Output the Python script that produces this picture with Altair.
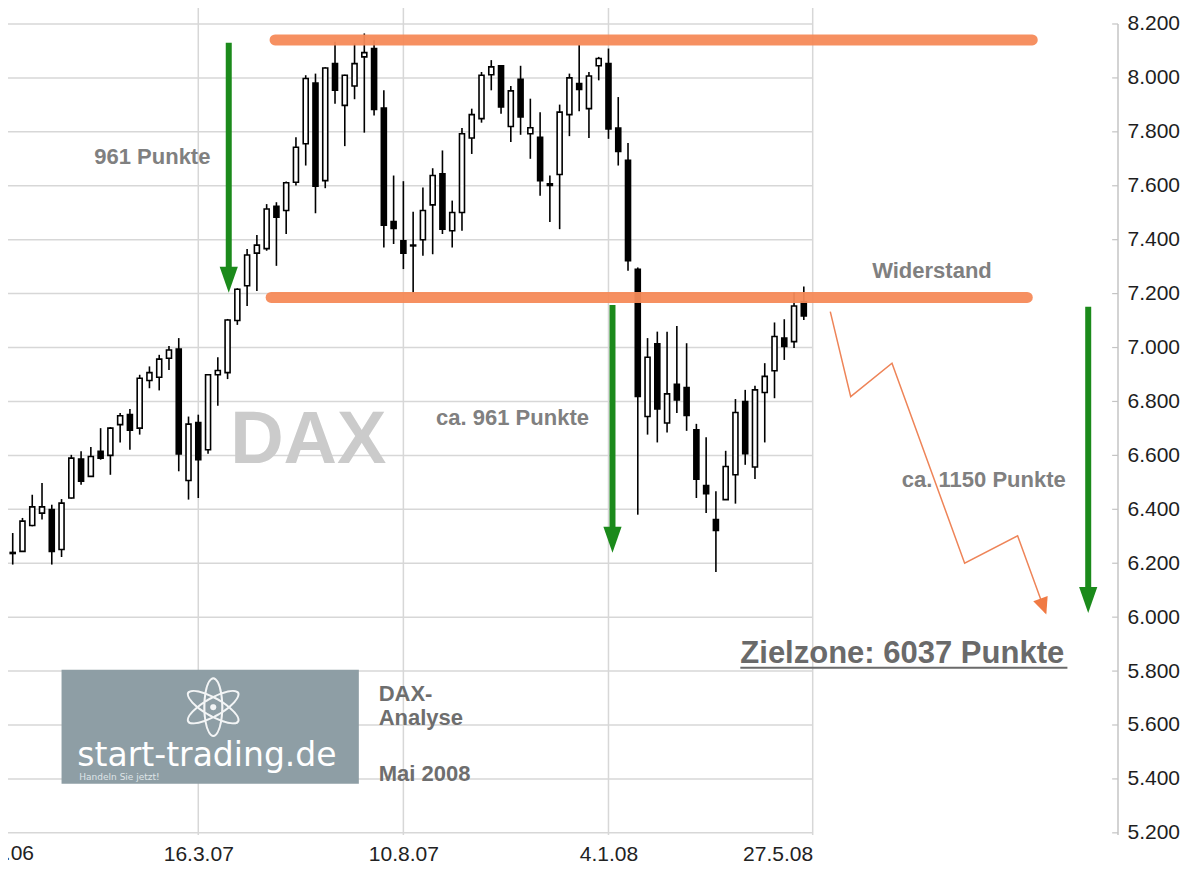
import altair as alt
import pandas as pd

# ---------------- data: weekly DAX candles (week 20 = 16.3.07) ----------------
open_ = [6263, 6236, 6244, 6340, 6386, 6399, 6251, 6442, 6586, 6522,
         6615, 6600, 6714, 6751, 6701, 6878, 6890, 6960, 6994, 6507,
         6722, 6621, 6899, 6907, 7100, 7229, 7350, 7367, 7524, 7508,
         7613, 7756, 7981, 7619, 8053, 7898, 7970, 8078, 8109, 7888,
         7467, 7396, 7377, 7400, 7529, 7644, 7433, 7501, 7777, 7849,
         8012, 8045, 7820, 7995, 7793, 7780, 7607, 7642, 7864, 7979,
         7886, 8045, 8053, 7814, 7694, 7290, 6744, 7014, 6720, 6864,
         6852, 6695, 6488, 6362, 6436, 6528, 6800, 6557, 6833, 6914,
         7035, 7022, 7170]
high_ = [6290, 6312, 6368, 6454, 6498, 6417, 6438, 6602, 6615, 6631,
         6701, 6705, 6757, 6772, 6899, 6930, 6973, 7006, 7035, 6744,
         6751, 6902, 6964, 7106, 7220, 7365, 7417, 7532, 7539, 7616,
         7780, 8010, 8016, 8040, 8134, 8012, 8128, 8165, 8140, 7954,
         7638, 7617, 7504, 7594, 7665, 7731, 7545, 7814, 7886, 8022,
         8066, 8048, 7970, 8045, 7923, 7873, 7638, 7901, 8016, 8122,
         8022, 8078, 8109, 7929, 7759, 7297, 7035, 7059, 7059, 7080,
         7016, 6717, 6667, 6467, 6617, 6809, 6843, 6858, 6942, 7093,
         7105, 7204, 7226]
low_ = [6190, 6195, 6244, 6337, 6362, 6195, 6223, 6440, 6491, 6520,
        6584, 6528, 6648, 6621, 6677, 6849, 6841, 6917, 6541, 6436,
        6442, 6606, 6784, 6883, 7084, 7154, 7210, 7359, 7303, 7421,
        7601, 7675, 7498, 7591, 7904, 7747, 7921, 7797, 7861, 7371,
        7384, 7291, 7204, 7340, 7346, 7421, 7371, 7433, 7718, 7834,
        7954, 7867, 7762, 7789, 7700, 7563, 7466, 7439, 7784, 7876,
        7777, 7991, 7774, 7675, 7285, 6380, 6677, 6648, 6685, 6757,
        6691, 6442, 6386, 6167, 6436, 6421, 6565, 6512, 6648, 6812,
        6954, 6998, 7102]
close_ = [6207, 6240, 6356, 6409, 6409, 6244, 6423, 6590, 6504, 6596,
          6590, 6701, 6747, 6693, 6886, 6907, 6957, 6991, 6605, 6716,
          6584, 6899, 6915, 7102, 7216, 7343, 7380, 7514, 7483, 7611,
          7743, 7998, 7598, 8037, 7954, 8010, 8053, 8094, 7883, 7454,
          7442, 7350, 7380, 7508, 7638, 7439, 7501, 7793, 7864, 8010,
          8041, 7892, 7952, 7855, 7815, 7619, 7601, 7873, 8000, 7957,
          8007, 8072, 7811, 7727, 7322, 6819, 6964, 6772, 6828, 6806,
          6748, 6512, 6458, 6322, 6559, 6759, 6606, 6843, 6893, 7041,
          7004, 7154, 7117]
week = list(range(len(open_)))

# axes
grid_levels = list(range(5200, 8201, 200))
xtick_weeks = [20, 41, 62, 82.91]
xtick_labels = ["16.3.07", "10.8.07", "4.1.08", "27.5.08"]
cut_label_week = [-1]
cut_label_text = ["20.10.06"]

# annotations
band_level = [8141, 7186]
band_start = [27.86, 27.46]
band_end = [105.39, 104.88]

arrow_week = [23.12, 62.41, 111.12]
arrow_top = [8130, 7158, 7151]
arrow_bottom = [7288, 6324, 6101]
arrow_head = [7251, 6287, 6064]

zig_week = [84.71, 86.80, 91.03, 98.47, 103.89, 106.76]
zig_level = [7133, 6818, 6942, 6200, 6302, 6016]
zig_head_week = [106.53]
zig_head_level = [6039]

label_text = ["961 Punkte", "ca. 961 Punkte", "Widerstand", "ca. 1150 Punkte",
              "DAX-", "Analyse", "Mai 2008"]
label_week = [9.35, 44.35, 89.0, 92.04, 38.47, 38.47, 38.47]
label_level = [7707, 6739, 7284, 6509, 5716, 5627, 5419]
label_color = ["#808080", "#808080", "#808080", "#808080", "#6e6e6e", "#6e6e6e", "#6e6e6e"]

target_text = ["Zielzone: 6037 Punkte"]
target_week = [75.5]
target_end = [108.99]
target_level = [5865]
target_line = [5812]

logo_week = [6.0]
logo_week2 = [36.44]
logo_top = [5805]
logo_bottom = [5382]

XMIN, XMAX = 0.21, 114.17
YMIN, YMAX = 5192, 8289
W, H = 1123, 835

# ---------------- chart ----------------
xscale = alt.Scale(domain=[XMIN, XMAX], nice=False, zero=False)
yscale = alt.Scale(domain=[YMIN, YMAX], nice=False, zero=False)

lab_expr = ""
for wv, lb in zip(xtick_weeks, xtick_labels):
    lab_expr += f"datum.value == {wv} ? '{lb}' : "
lab_expr += "''"

xaxis = alt.Axis(values=xtick_weeks, labelExpr=lab_expr, domain=False, ticks=False,
                 tickSize=0, grid=False, title=None, labelFont="Liberation Sans",
                 labelFontSize=21, labelColor="#222222", labelPadding=8,
                 labelOverlap=False, labelBound=False, labelFlush=False,
                 labelAlign={"condition": {"test": "datum.value > 80", "value": "right"},
                             "value": "center"})
yaxis = alt.Axis(values=grid_levels, orient="right",
                 labelExpr="replace(format(datum.value, ','), ',', '.')",
                 domain=False, ticks=False, tickSize=0, grid=False, title=None,
                 labelFont="Liberation Sans", labelFontSize=21, labelColor="#1e1e1e",
                 labelPadding=4, labelOverlap=False)


def X(f):
    return alt.X(f"{f}:Q", scale=xscale, axis=xaxis)


def Y(f):
    return alt.Y(f"{f}:Q", scale=yscale, axis=yaxis)


candles = pd.DataFrame({"w": week, "o": open_, "h": high_, "l": low_, "c": close_})
candles["fill"] = ["white" if c >= o else "black" for o, c in zip(open_, close_)]

hgrid = pd.DataFrame({"v": grid_levels, "w0": XMIN, "w1": xtick_weeks[-1]})
vgrid = pd.DataFrame({"w": xtick_weeks})
axisline = pd.DataFrame({"w": [XMAX], "v0": [YMIN], "v1": [grid_levels[-1]]})
axticks = pd.DataFrame({"v": grid_levels, "w0": XMAX - 0.6, "w1": XMAX})
cut = pd.DataFrame({"w": cut_label_week, "t": cut_label_text,
                    "v": [YMAX - (H + 8) * (YMAX - YMIN) / H]})

bands = pd.DataFrame({"v": band_level, "w0": band_start, "w1": band_end})
arrows = pd.DataFrame({"w": arrow_week, "top": arrow_top, "bot": arrow_bottom, "head": arrow_head})
zig = pd.DataFrame({"w": zig_week, "v": zig_level, "i": list(range(len(zig_week)))})
zighead = pd.DataFrame({"w": zig_head_week, "v": zig_head_level})
labels = pd.DataFrame({"w": label_week, "v": label_level, "t": label_text, "col": label_color})
target = pd.DataFrame({"w": target_week, "w1": target_end, "v": target_level,
                       "vl": target_line, "t": target_text})
logo = pd.DataFrame({"w0": logo_week, "w1": logo_week2, "v0": logo_top, "v1": logo_bottom})
logo_txt = pd.DataFrame({"w": [7.62], "v": [5449], "t": ["start-trading.de"]})
logo_small = pd.DataFrame({"w": [7.82], "v": [5397], "t": ["Handeln Sie jetzt!"]})
atom = pd.DataFrame({"w": [21.52], "v": [5650], "t": ["\u269b"]})
dax = pd.DataFrame({"w": [31.26], "v": [6654], "t": ["DAX"]})

GRID = "#d7d7d7"
GREEN = "#1b8a1b"
ORANGE = "#f58a58"

layers = []
layers.append(alt.Chart(hgrid).mark_rule(color=GRID, strokeWidth=1.5).encode(
    x=X("w0"), x2="w1", y=Y("v")))
layers.append(alt.Chart(vgrid).mark_rule(color=GRID, strokeWidth=1.5).encode(x=X("w")))
layers.append(alt.Chart(axisline).mark_rule(color="#c4c4c4", strokeWidth=1.5).encode(
    x=X("w"), y=Y("v0"), y2="v1"))
layers.append(alt.Chart(axticks).mark_rule(color="#c4c4c4", strokeWidth=1.2).encode(
    x=X("w0"), x2="w1", y=Y("v")))
layers.append(alt.Chart(cut).mark_text(font="Liberation Sans", fontSize=21, color="#222222",
                                       baseline="top", align="center").encode(
    x=X("w"), y=Y("v"), text="t:N"))

# logo & watermark
layers.append(alt.Chart(logo).mark_rect(color="#8e9ea5").encode(
    x=X("w0"), x2="w1", y=Y("v0"), y2="v1"))
layers.append(alt.Chart(atom).mark_text(font="DejaVu Sans", fontSize=82, color="white",
                                        opacity=0.9, baseline="middle", align="center").encode(
    x=X("w"), y=Y("v"), text="t:N"))
layers.append(alt.Chart(logo_txt).mark_text(font="DejaVu Sans", fontSize=33, color="white",
                                            baseline="alphabetic", align="left").encode(
    x=X("w"), y=Y("v"), text="t:N"))
layers.append(alt.Chart(logo_small).mark_text(font="DejaVu Sans", fontSize=9, color="#dfe5e8",
                                              baseline="alphabetic", align="left").encode(
    x=X("w"), y=Y("v"), text="t:N"))
layers.append(alt.Chart(dax).mark_text(font="Liberation Sans", fontSize=74, fontWeight="bold",
                                       color="#cbcbcb", baseline="middle", align="center").encode(
    x=X("w"), y=Y("v"), text="t:N"))

# candles
layers.append(alt.Chart(candles).mark_rule(color="black", strokeWidth=1.6, clip=True).encode(
    x=X("w"), y=Y("l"), y2="h"))
layers.append(alt.Chart(candles).mark_bar(size=5, stroke="black", strokeWidth=1.6, clip=True).encode(
    x=X("w"), y=Y("o"), y2="c", fill=alt.Fill("fill:N", scale=None)))

# resistance bands
layers.append(alt.Chart(bands).mark_rule(color=ORANGE, strokeWidth=11, strokeCap="round",
                                         opacity=0.95).encode(
    x=X("w0"), x2="w1", y=Y("v")))

# green arrows
layers.append(alt.Chart(arrows).mark_rule(color=GREEN, strokeWidth=6).encode(
    x=X("w"), y=Y("top"), y2="bot"))
layers.append(alt.Chart(arrows).mark_point(shape="M-0.7,-1L0.7,-1L0,1Z", filled=True, size=676,
                                           color=GREEN, opacity=1, strokeWidth=0).encode(
    x=X("w"), y=Y("head")))

# forecast zigzag
layers.append(alt.Chart(zig).mark_line(color="#ee8458", strokeWidth=1.5).encode(
    x=X("w"), y=Y("v"), order="i:Q"))
layers.append(alt.Chart(zighead).mark_point(shape="M-0.9,-1L0.9,-1L0,1Z", filled=True, size=289,
                                            angle=340, color="#f07a44", opacity=1,
                                            strokeWidth=0).encode(
    x=X("w"), y=Y("v")))

# texts
layers.append(alt.Chart(labels).mark_text(font="Liberation Sans", fontSize=22, fontWeight="bold",
                                          baseline="middle", align="left").encode(
    x=X("w"), y=Y("v"), text="t:N", color=alt.Color("col:N", scale=None)))
layers.append(alt.Chart(target).mark_text(font="Liberation Sans", fontSize=31, fontWeight="bold",
                                          color="#6a6a6a", baseline="middle", align="left").encode(
    x=X("w"), y=Y("v"), text="t:N"))
layers.append(alt.Chart(target).mark_rule(color="#6a6a6a", strokeWidth=2).encode(
    x=X("w"), x2="w1", y=Y("vl")))

chart = alt.layer(*layers).properties(
    width=W, height=H,
    autosize=alt.AutoSizeParams(type="none"),
    padding={"left": -8, "top": -8, "right": 69, "bottom": 32},
    background="white",
).configure_view(stroke=None)

chart.save("out.html", embed_options={"renderer": "svg", "actions": False})
